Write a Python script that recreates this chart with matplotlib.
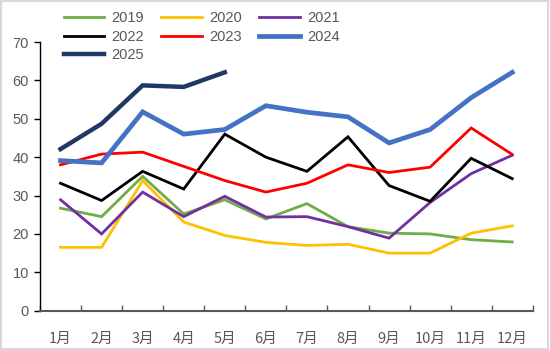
import matplotlib
matplotlib.use("Agg")
import matplotlib.pyplot as plt
from matplotlib.patches import Rectangle
import numpy as np

plt.rcParams['font.family'] = ['Noto Sans CJK SC', 'DejaVu Sans']

months = ['1月', '2月', '3月', '4月', '5月', '6月', '7月', '8月', '9月', '10月', '11月', '12月']
y2019 = [26.7, 24.5, 35.0, 25.2, 28.9, 23.9, 27.9, 21.9, 20.2, 20.0, 18.5, 17.9]
y2020 = [16.5, 16.5, 33.9, 23.1, 19.6, 17.8, 17.0, 17.3, 15.0, 15.0, 20.2, 22.1]
y2021 = [28.9, 20.0, 30.9, 24.5, 29.8, 24.4, 24.5, 21.9, 18.9, 28.2, 35.7, 40.5]
y2022 = [33.2, 28.7, 36.3, 31.7, 46.0, 40.0, 36.3, 45.3, 32.6, 28.5, 39.7, 34.4]
y2023 = [38.0, 40.8, 41.3, 37.6, 33.9, 30.9, 33.2, 38.0, 36.0, 37.4, 47.6, 40.7]
y2024 = [39.1, 38.5, 51.8, 46.0, 47.2, 53.4, 51.7, 50.5, 43.7, 47.2, 55.5, 62.1]
y2025 = [42.1, 48.7, 58.7, 58.3, 62.1]
yticks = [0, 10, 20, 30, 40, 50, 60, 70]

series = [
    ('2019', y2019, '#70AD47', 2.0),
    ('2020', y2020, '#FFC000', 2.0),
    ('2021', y2021, '#7030A0', 2.0),
    ('2022', y2022, '#000000', 2.0),
    ('2023', y2023, '#FF0000', 2.0),
    ('2024', y2024, '#4472C4', 3.4),
    ('2025', y2025, '#203864', 3.2),
]

fig = plt.figure(figsize=(5.5, 3.5), dpi=100)
fig.patch.set_facecolor('white')
fig.patches.append(Rectangle((0.002, 0.003), 0.995, 0.994, transform=fig.transFigure,
                             fill=False, edgecolor='#D9D9D9', linewidth=1.5))
ax = fig.add_axes([0.0727, 0.1123, 0.896, 0.7677])

x = np.arange(len(months))
handles = {}
for name, vals, color, lw in series:
    h, = ax.plot(x[:len(vals)], vals, color=color, linewidth=lw, label=name,
                 solid_joinstyle='miter')
    handles[name] = h

ax.set_xlim(-0.5, 11.5)
ax.set_ylim(0, 70)
ax.set_yticks(yticks)
ax.set_yticklabels([str(t) for t in yticks], fontsize=10.5, color='#595959',
                   family=['Liberation Sans', 'DejaVu Sans'])
ax.set_xticks(x)
ax.set_xticklabels(months, fontsize=10.5, color='#595959')
ax.set_xticks(np.arange(-0.5, 12, 1), minor=True)
ax.tick_params(axis='x', which='major', length=0, pad=15)
ax.tick_params(axis='x', which='minor', direction='in', length=4, color='#595959', width=1)
ax.tick_params(axis='y', direction='out', length=4, color='#000000', width=1, pad=4)

for s in ['top', 'right']:
    ax.spines[s].set_visible(False)
ax.spines['left'].set_color('#000000')
ax.spines['bottom'].set_color('#595959')
ax.spines['left'].set_linewidth(1.0)
ax.spines['bottom'].set_linewidth(1.5)

# row-major legend order for 3 columns
order = ['2019', '2022', '2025', '2020', '2023', '2021', '2024']
leg = fig.legend([handles[k] for k in order], order, loc='upper left',
                 bbox_to_anchor=(0.105, 0.984), ncol=3, frameon=False,
                 fontsize=10.5, handlelength=2.8, handletextpad=0.5, columnspacing=1.17,
                 labelspacing=0.31, borderaxespad=0)
for t in leg.get_texts():
    t.set_color('#595959')
    t.set_family(['Liberation Sans', 'DejaVu Sans'])

fig.savefig('out.png', dpi=100)
